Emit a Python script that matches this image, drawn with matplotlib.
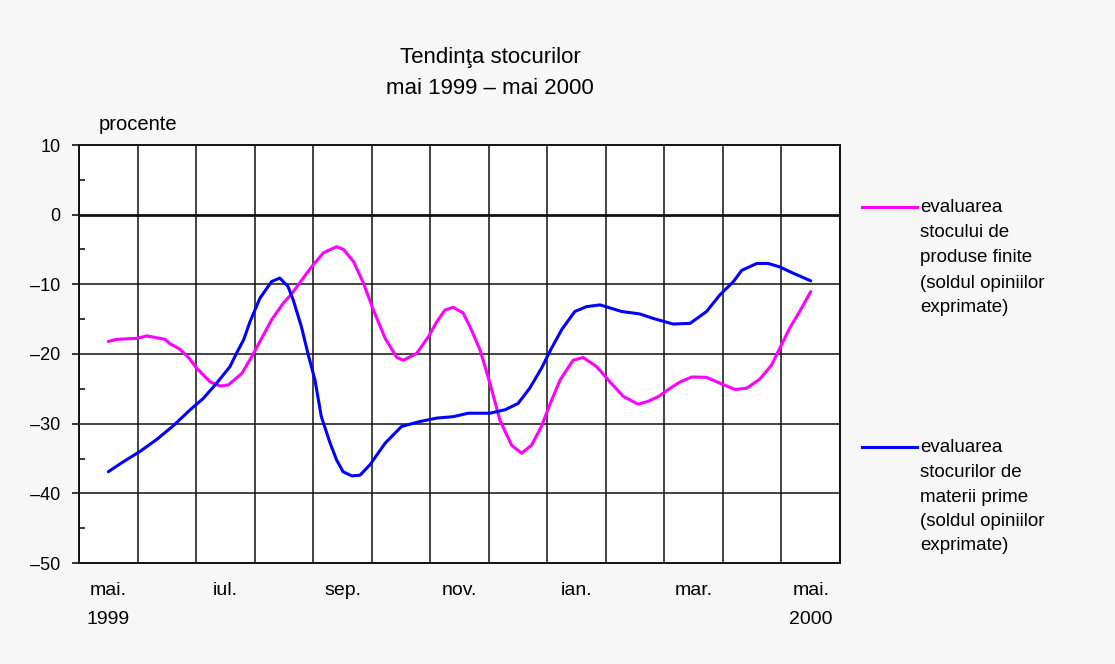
import matplotlib
matplotlib.use("Agg")
import matplotlib.pyplot as plt
from matplotlib.lines import Line2D
from matplotlib.ticker import MultipleLocator, FixedLocator
from matplotlib.transforms import blended_transform_factory

plt.rcParams['font.family'] = ['Liberation Sans', 'DejaVu Sans']

# month offsets from mai 1999 (0) to mai 2000 (12)
tick_pos = [0, 2, 4, 6, 8, 10, 12]
tick_labels = ["mai.", "iul.", "sep.", "nov.", "ian.", "mar.", "mai."]
year_pos = [0, 12]
year_labels = ["1999", "2000"]

pink_x = [0.0, 0.14, 0.49, 0.66, 0.97, 1.05, 1.22, 1.37, 1.51, 1.74, 1.91, 2.05, 2.28,
          2.45, 2.62, 2.79, 2.99, 3.13, 3.33, 3.50, 3.68, 3.90, 4.02, 4.19, 4.36,
          4.53, 4.73, 4.93, 5.04, 5.27, 5.47, 5.61, 5.75, 5.89, 6.06, 6.18, 6.35,
          6.52, 6.69, 6.89, 7.06, 7.23, 7.40, 7.55, 7.72, 7.94, 8.11, 8.34, 8.57,
          8.80, 9.05, 9.22, 9.40, 9.60, 9.77, 9.97, 10.22, 10.45, 10.71, 10.91,
          11.13, 11.33, 11.47, 11.64, 11.81, 12.0]
pink_y = [-18.2, -17.9, -17.75, -17.4, -17.9, -18.5, -19.3, -20.5, -22.05, -24.0,
          -24.6, -24.45, -22.8, -20.4, -17.75, -15.1, -12.7, -11.4, -9.1, -7.2,
          -5.45, -4.6, -5.0, -6.75, -9.85, -13.7, -17.75, -20.5, -20.9, -19.9,
          -17.5, -15.4, -13.7, -13.3, -14.1, -16.1, -19.4, -24.2, -29.5, -33.1,
          -34.25, -33.1, -30.4, -27.1, -23.7, -20.9, -20.5, -21.8, -24.0, -26.1,
          -27.2, -26.8, -26.1, -24.9, -24.0, -23.3, -23.35, -24.2, -25.1, -24.9,
          -23.6, -21.6, -19.2, -16.3, -13.9, -11.05]

blue_x = [0.0, 0.26, 0.54, 0.83, 1.11, 1.40, 1.62, 1.85, 2.08, 2.19, 2.31, 2.42,
          2.59, 2.79, 2.93, 3.07, 3.16, 3.30, 3.41, 3.53, 3.64, 3.79, 3.90, 4.01,
          4.16, 4.30, 4.47, 4.73, 5.01, 5.32, 5.61, 5.89, 6.15, 6.52, 6.78, 7.00,
          7.20, 7.40, 7.57, 7.75, 7.97, 8.17, 8.40, 8.77, 9.08, 9.31, 9.65, 9.94,
          10.22, 10.45, 10.68, 10.82, 11.08, 11.27, 11.47, 11.70, 12.0]
blue_y = [-36.9, -35.45, -34.0, -32.25, -30.3, -28.0, -26.4, -24.2, -21.8, -19.9,
          -18.0, -15.4, -12.0, -9.6, -9.1, -10.3, -12.25, -16.1, -19.9, -23.7,
          -29.0, -32.8, -35.2, -36.9, -37.5, -37.4, -35.9, -32.8, -30.4, -29.7,
          -29.2, -29.0, -28.5, -28.5, -28.0, -27.1, -24.9, -22.05, -19.2, -16.45,
          -13.9, -13.2, -12.95, -13.9, -14.25, -14.9, -15.7, -15.6, -13.9, -11.5,
          -9.6, -8.0, -7.0, -7.0, -7.5, -8.4, -9.5]

pink_label = ["evaluarea", "stocului de", "produse finite", "(soldul opiniilor", "exprimate)"]
blue_label = ["evaluarea", "stocurilor de", "materii prime", "(soldul opiniilor", "exprimate)"]

W, H = 1115, 664
fig = plt.figure(figsize=(W / 100, H / 100), dpi=100)
fig.patch.set_facecolor('#f7f7f7')
ax = fig.add_axes([79 / W, 1 - 563 / H, (840 - 79) / W, (563 - 145) / H])
ax.set_facecolor('white')

ax.set_xlim(-0.5, 12.5)
ax.set_ylim(-50, 10)

# grid
for i in range(14):
    ax.axvline(i - 0.5, color='#111111', lw=1.1, zorder=1)
for v in range(-40, 10, 10):
    ax.axhline(v, color='#111111', lw=2.0 if v == 0 else 1.1, zorder=1)

ax.plot(pink_x, pink_y, color='#ff00ff', lw=2.2, zorder=3, solid_capstyle='round')
ax.plot(blue_x, blue_y, color='#0000ff', lw=2.2, zorder=3, solid_capstyle='round')

for s in ax.spines.values():
    s.set_color('#111111')
    s.set_linewidth(1.4)

yt = list(range(-50, 11, 10))
ax.set_yticks(yt)
ax.set_yticklabels([("\u2013" + str(-v)) if v < 0 else str(v) for v in yt], fontsize=13)
ax.yaxis.set_minor_locator(MultipleLocator(5))
ax.tick_params(axis='y', which='major', length=5, width=1.1, direction='out', pad=8.5)
ax.tick_params(axis='y', which='minor', length=4, width=1.1, direction='in')

ax.xaxis.set_major_locator(FixedLocator(tick_pos))
ax.set_xticklabels(tick_labels, fontsize=14)
ax.tick_params(axis='x', length=0, pad=14)

tr = blended_transform_factory(ax.transData, fig.transFigure)
for xp, yl in zip(year_pos, year_labels):
    fig.text(xp, 1 - 620 / H, yl, transform=tr, ha='center', va='center', fontsize=14)

fig.text(490 / W, 1 - 57 / H, "Tendinţa stocurilor", ha='center', va='center', fontsize=16)
fig.text(490 / W, 1 - 88 / H, "mai 1999 \u2013 mai 2000", ha='center', va='center', fontsize=16)
fig.text(99 / W, 1 - 125 / H, "procente", ha='left', va='center', fontsize=14.5)

# legend
fig.add_artist(Line2D([862 / W, 917 / W], [1 - 207 / H, 1 - 207 / H], color='#ff00ff', lw=2.2))
fig.add_artist(Line2D([862 / W, 917 / W], [1 - 447 / H, 1 - 447 / H], color='#0000ff', lw=2.2))
for k, line in enumerate(pink_label):
    fig.text(920 / W, 1 - (208 + 25 * k) / H, line, ha='left', va='center', fontsize=13.5)
for k, line in enumerate(blue_label):
    fig.text(920 / W, 1 - (448 + 24.5 * k) / H, line, ha='left', va='center', fontsize=13.5)

fig.savefig("out.png", dpi=100, facecolor=fig.get_facecolor())
